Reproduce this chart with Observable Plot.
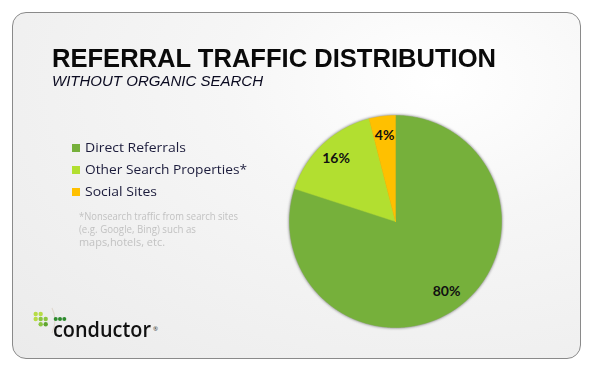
<!DOCTYPE html>
<html><head><meta charset="utf-8">
<script src="https://cdn.jsdelivr.net/npm/d3@7"></script>
<script src="https://cdn.jsdelivr.net/npm/@observablehq/plot@0.6"></script>
<style>
html,body{margin:0;padding:0;background:#fff;}
#wrap{position:relative;width:599px;height:386px;overflow:hidden;font-family:"Open Sans",sans-serif;}
#frame{position:absolute;left:12px;top:12px;width:567px;height:345px;border:1.5px solid #8a8a8a;border-radius:14px;
 background:radial-gradient(ellipse at 75% 20%, #ffffff 0%, #f6f6f6 35%, #ebebeb 100%);}
.t{position:absolute;white-space:nowrap;line-height:1;transform-origin:0 0;}
#plot{position:absolute;left:0;top:0;}
</style></head>
<body><div id="wrap"><div id="frame"></div><div id="plot"></div></div>
<script>
const categories = ["Direct Referrals", "Other Search Properties*", "Social Sites"];
const shares = [80, 16, 4];
const labels = ["80%", "16%", "4%"];
const colors = ["#76b03b", "#b2df30", "#ffc000"];
const title = "REFERRAL TRAFFIC DISTRIBUTION";
const subtitle = "WITHOUT ORGANIC SEARCH";
const footnote = ["*Nonsearch traffic from search sites", "(e.g. Google, Bing) such as", "maps,hotels, etc."];

const W = 599, H = 386;
const cx = 395, cy = 221, R = 106;

// pie geometry from data
const pie = d3.pie().sort(null).value(d => d.v)(categories.map((c, i) => ({c, v: shares[i], l: labels[i]})));
const pt = (a, r) => [cx + r * Math.sin(a), cy - r * Math.cos(a)];
const poly = [];
pie.forEach(s => {
  const n = Math.max(4, Math.ceil((s.endAngle - s.startAngle) / 0.01));
  poly.push({c: s.data.c, x: cx, y: cy});
  for (let k = 0; k <= n; k++) {
    const a = s.startAngle + (s.endAngle - s.startAngle) * k / n;
    const [x, y] = pt(a, R);
    poly.push({c: s.data.c, x, y});
  }
  poly.push({c: s.data.c, x: cx, y: cy});
});
const labelPts = pie.map(s => {
  const m = (s.startAngle + s.endAngle) / 2;
  const [x, y] = pt(m, R * 0.82);
  return {x, y, l: s.data.l};
});

const chart = Plot.plot({
  width: W, height: H, margin: 0,
  x: {domain: [0, W], range: [0, W], axis: null},
  y: {domain: [0, H], range: [0, H], axis: null},
  color: {domain: categories, range: colors},
  style: {background: "transparent", overflow: "visible"},
  marks: [
    Plot.line(poly, {x: "x", y: "y", z: "c", fill: "c", stroke: "c", strokeWidth: 0.5, curve: "linear"}),
    Plot.text(labelPts, {x: "x", y: "y", text: "l", fontSize: 14, fontWeight: "bold", fill: "#111",
      fontFamily: "Lato, 'Open Sans', sans-serif"})
  ]
});
document.getElementById("plot").appendChild(chart);
const lg = chart.querySelector('g[aria-label="line"]');
if (lg) lg.style.filter = "drop-shadow(0.5px 0.5px 1.5px rgba(0,0,0,0.6))";

const wrap = document.getElementById("wrap");
const OPEN = [1.069, 0.293], LIB = [0.905, 0.212];
// text helper: baseline y, target width
function addText(str, x, base, fs, width, style, m) {
  m = m || OPEN;
  const d = document.createElement("div");
  d.className = "t";
  d.textContent = str;
  d.style.fontSize = fs + "px";
  Object.assign(d.style, style || {});
  wrap.appendChild(d);
  const off = (1 - (m[0] + m[1])) / 2 + m[0];
  d.style.left = x + "px";
  d.style.top = (base - off * fs) + "px";
  if (width) {
    const w = d.getBoundingClientRect().width;
    d.style.transform = `scaleX(${width / w})`;
  }
  return d;
}
addText(title, 52, 66.8, 26, 444, {fontWeight: "700", color: "#0a0a0a", fontFamily: "'Liberation Sans', Arial, sans-serif"}, LIB);
addText(subtitle, 52, 86, 15.5, 211, {fontStyle: "italic", color: "#0a0a20", fontFamily: "'Liberation Sans', Arial, sans-serif"}, LIB);

// legend
const legendRows = [148, 170, 192];
const legendW = [101, 162, 72];
categories.forEach((c, i) => {
  const sq = document.createElement("div");
  Object.assign(sq.style, {position: "absolute", left: "72px", top: (legendRows[i] - 4) + "px", width: "8px", height: "8px", background: colors[i]});
  wrap.appendChild(sq);
  addText(c, 84.5, legendRows[i] + 4.7, 13, legendW[i], {color: "#1c1c3c"});
});
const fnW = [159, 117, 86];
footnote.forEach((s, i) => addText(s, 79, 219.5 + i * 13, 10, fnW[i], {color: "#c2c2c2"}));

// logo
const logo = document.createElementNS("http://www.w3.org/2000/svg", "svg");
logo.setAttribute("width", 80); logo.setAttribute("height", 40);
Object.assign(logo.style, {position: "absolute", left: "25px", top: "300px"});
let html = '<path d="M 27 8 Q 33 20 27 33" fill="none" stroke="#e0d8d0" stroke-width="1.2"/>';
const light = "#b7dc45", mid = "#8cc63f", dark = "#5fa52f";
const grid = [[light, light, null],[light, mid, mid],[null, mid, dark]];
const gx = [10.7, 15.7, 20.7], gy = [14, 19, 24.3];
grid.forEach((row, r) => row.forEach((col, c) => { if (col) html += `<circle cx="${gx[c]}" cy="${gy[r]}" r="2.2" fill="${col}"/>`; }));
[30.7, 35, 39.3].forEach(x => html += `<circle cx="${x}" cy="19" r="2" fill="#2e8b2e"/>`);
logo.innerHTML = html;
wrap.appendChild(logo);
addText("conductor", 53, 337, 22, 98, {fontWeight: "600", color: "#111"});
addText("®", 153, 331, 6, null, {color: "#333"});
</script>
</body></html>
